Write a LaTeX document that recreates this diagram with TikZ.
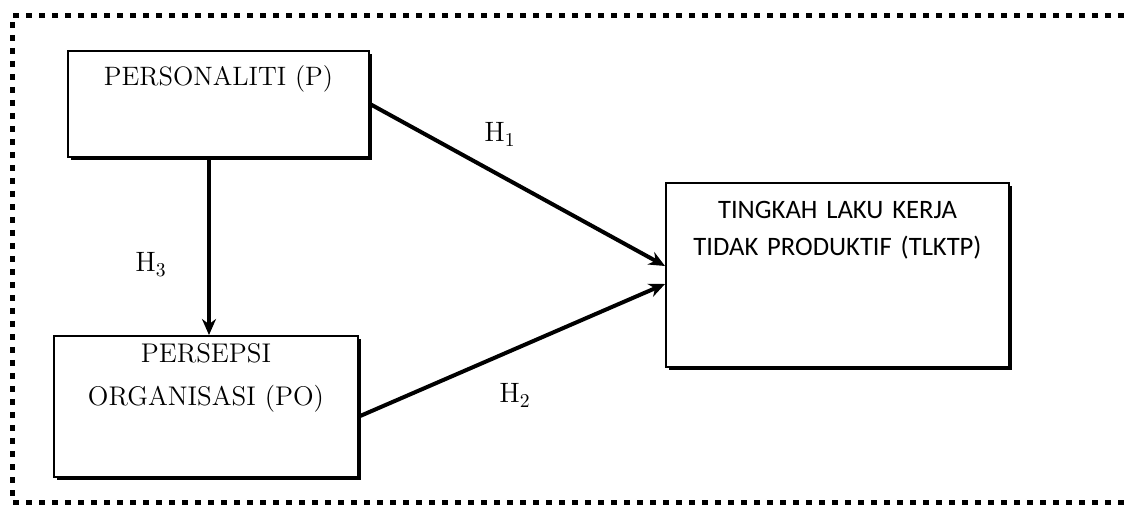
\documentclass[tikz,border=0pt]{standalone}
\usepackage{fontspec}
\newfontfamily\calfont{Carlito}
\usetikzlibrary{arrows.meta, positioning, shadows}

\begin{document}
\begin{tikzpicture}[x=0.5pt, y=-0.5pt,
      varbox/.style={draw, line width=1pt, fill=white, inner sep=0pt,
                    anchor=north west, align=center,
                    drop shadow={shadow xshift=1.5pt, shadow yshift=-1.5pt,
                                 fill=black, opacity=1}},
      hlabel/.style={anchor=base, font=\fontsize{14}{16}\selectfont},
      arr/.style={-{Stealth[length=8pt, width=7pt]}, line width=2pt},
      frameline/.style={line width=2.5pt, dash pattern=on 3pt off 3.5pt}
    ]
      \useasboundingbox (0,0) rectangle (1124,507);
      \draw[frameline] (1124,16) -- (12,16) -- (12,502) -- (1124,502);

      \node[varbox, text width=150.5pt, text height=17.5pt, text depth=35.5pt,
            font=\fontsize{13.3}{21.5}\selectfont] (p) at (67,50) {PERSONALITI (P)};
      \node[varbox, text width=152pt, text height=13.5pt, text depth=57pt,
            font=\fontsize{13.5}{21.5}\selectfont] (po) at (53,335)
            {PERSEPSI\\ORGANISASI (PO)};
      \node[varbox, text width=171.5pt, text height=18pt, text depth=74pt,
            font=\calfont\fontsize{13.3}{18.5}\selectfont] (tlktp) at (665,182)
            {TINGKAH LAKU KERJA\\TIDAK PRODUKTIF (TLKTP)};

      \node[hlabel] (h1) at (500,142) {H\textsubscript{1}};
      \node[hlabel] (h2) at (515,403) {H\textsubscript{2}};
      \node[hlabel] (h3) at (151,272) {H\textsubscript{3}};

      \draw[arr] (p.east) -- ([yshift=4.5pt]tlktp.west);
      \draw[arr] ([yshift=-5pt]po.east) -- ([yshift=-4.5pt]tlktp.west);
      \draw[arr, line width=1.6pt] ([xshift=-4.75pt]p.south)
            -- ([xshift=-4.75pt]p.south |- po.north);
    \end{tikzpicture}
\end{document}
